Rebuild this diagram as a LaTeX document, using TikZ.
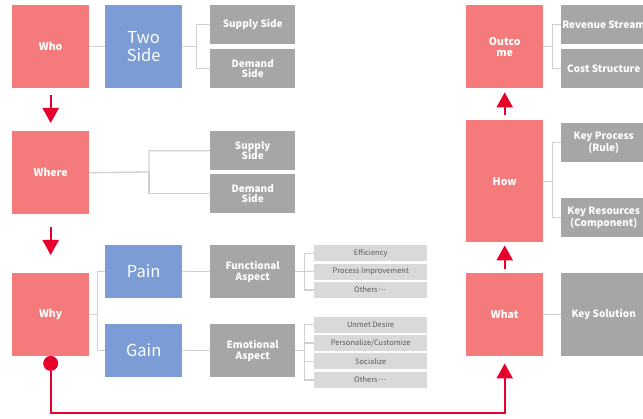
\documentclass[tikz,border=0pt]{standalone}
\usepackage{fontspec}
\setmainfont{Noto Sans CJK KR}
\usetikzlibrary{arrows.meta,positioning}
\definecolor{boxred}  {HTML}{F47A7B}
\definecolor{boxblue} {HTML}{7B9CD4}
\definecolor{boxgray} {HTML}{A6A6A6}
\definecolor{boxlight}{HTML}{D9D9D9}
\definecolor{linkgray}{HTML}{D0D0D0}
\definecolor{flowred} {HTML}{E8002D}
\definecolor{txtgray} {HTML}{5A5A5A}
\newcommand{\moredots}{·\kern-1.6pt·\kern-1.6pt·}

\begin{document}
\begin{tikzpicture}[
  x=1pt, y=-1pt,
  ask/.style={anchor=north west,inner sep=0pt,minimum width=77pt,minimum height=83pt,
              fill=boxred,text=white,align=center,font=\bfseries\fontsize{10.5}{11}\selectfont},
  big/.style={anchor=north west,inner sep=0pt,minimum width=77pt,minimum height=53pt,
              fill=boxblue,text=white,align=center,font=\fontsize{16.5}{18}\selectfont},
  item/.style={anchor=north west,inner sep=0pt,minimum width=85pt,minimum height=39pt,
               fill=boxgray,text=white,align=center,font=\bfseries\fontsize{10}{10.5}\selectfont},
  sub/.style={anchor=north west,inner sep=0pt,minimum width=113pt,minimum height=16pt,
              fill=boxlight,text=txtgray,font=\fontsize{7.5}{8}\selectfont},
  link/.style={draw=linkgray,line width=1.3pt},
  flow/.style={draw=flowred,line width=2.2pt,-{Triangle[width=16pt,length=15pt]}}
]
\useasboundingbox (0,0) rectangle (643,419);

%% Left column: Who / Where / Why
\node[ask] (who)   at (12,5)   {Who};
\node[ask] (where) at (12,131) {Where};
\node[ask] (why)   at (12,273) {Why};

%% Who -> Two Side -> supply / demand
\node[big,minimum height=83pt] (two) at (105,5) {Two\\Side};
\node[item] (sup1) at (210,5)  {Supply Side};
\node[item] (dem1) at (210,49) {Demand\\Side};
\draw[link] (who) -- (two);
\draw[link] (two.east) -- ++(14,0) coordinate (b1) |- (sup1.west);
\draw[link] (b1) |- (dem1.west);

%% Where -> supply / demand
\node[item] (sup2) at (210,131) {Supply\\Side};
\node[item] (dem2) at (210,174) {Demand\\Side};
\draw[link] (where.east) -- (149,172) coordinate (b2) |- (sup2.west);
\draw[link] (b2) |- (dem2.west);

%% Why -> Pain / Gain
\node[big] (pain) at (105,245) {Pain};
\node[big] (gain) at (105,324) {Gain};
\draw[link] (why.east) -- ++(8,0) coordinate (b3) |- (pain.west);
\draw[link] (b3) |- (gain.west);

%% Pain -> Functional Aspect
\node[item,minimum height=53pt] (func) at (210,245) {Functional\\Aspect};
\draw[link] (pain) -- (func);
\node[sub] (eff) at (314,245) {Efficiency};
\node[sub,below=2pt of eff] (proc) {Process Improvement};
\node[sub,below=2pt of proc] (oth1) {Others\moredots};
\draw[link] (func.east) -- ++(9,0) coordinate (b4) |- (eff.west);
\draw[link] (b4) |- (proc.west);
\draw[link] (b4) |- (oth1.west);

%% Gain -> Emotional Aspect
\node[item,minimum height=53pt] (emo) at (210,324) {Emotional\\Aspect};
\draw[link] (gain) -- (emo);
\node[sub] (unmet) at (314,316.5) {Unmet Desire};
\node[sub,below=2pt of unmet] (pers) {Personalize/Customize};
\node[sub,below=2pt of pers]  (soc)  {Socialize};
\node[sub,below=2pt of soc]   (oth2) {Others\moredots};
\draw[link] (emo.east) -- ++(9,0) coordinate (b5) |- (unmet.west);
\draw[link] (b5) |- (pers.west);
\draw[link] (b5) |- (soc.west);
\draw[link] (b5) |- (oth2.west);

%% Right column: What / How / Outcome
\node[ask] (what) at (466,273) {What};
\node[ask,minimum height=122pt] (how) at (466,120) {How};
\node[ask] (outc) at (466,5) {Outco\\me};

\node[item,minimum height=83pt] (sol) at (561,273) {Key Solution};
\draw[link] (what) -- (sol);

\node[item] (proc2) at (561,123) {Key Process\\(Rule)};
\node[item] (res)   at (561,198) {Key Resources\\(Component)};
\draw[link] (how.east) -- ++(9,0) coordinate (b6) |- (proc2.west);
\draw[link] (b6) |- (res.west);

\node[item] (rev)  at (561,5)  {Revenue Stream};
\node[item] (cost) at (561,49) {Cost Structure};
\draw[link] (outc.east) -- ++(9,0) coordinate (b7) |- (rev.west);
\draw[link] (b7) |- (cost.west);

%% red flow
\draw[flow,shorten <=7pt,shorten >=8pt]   (who) -- (where);
\draw[flow,shorten <=13pt,shorten >=18pt] (where) -- (why);
\draw[flow,shorten <=4pt,shorten >=3pt]   (what) -- (how);
\draw[flow,shorten <=5pt,shorten >=4pt]   (how) -- (outc);
\node[circle,fill=flowred,inner sep=0pt,minimum size=15pt] (dot) at ([yshift=-7pt]why.south) {};
\draw[flow,shorten >=7pt] (dot) -- ++(0,50) -| (what.south);

\end{tikzpicture}
\end{document}
